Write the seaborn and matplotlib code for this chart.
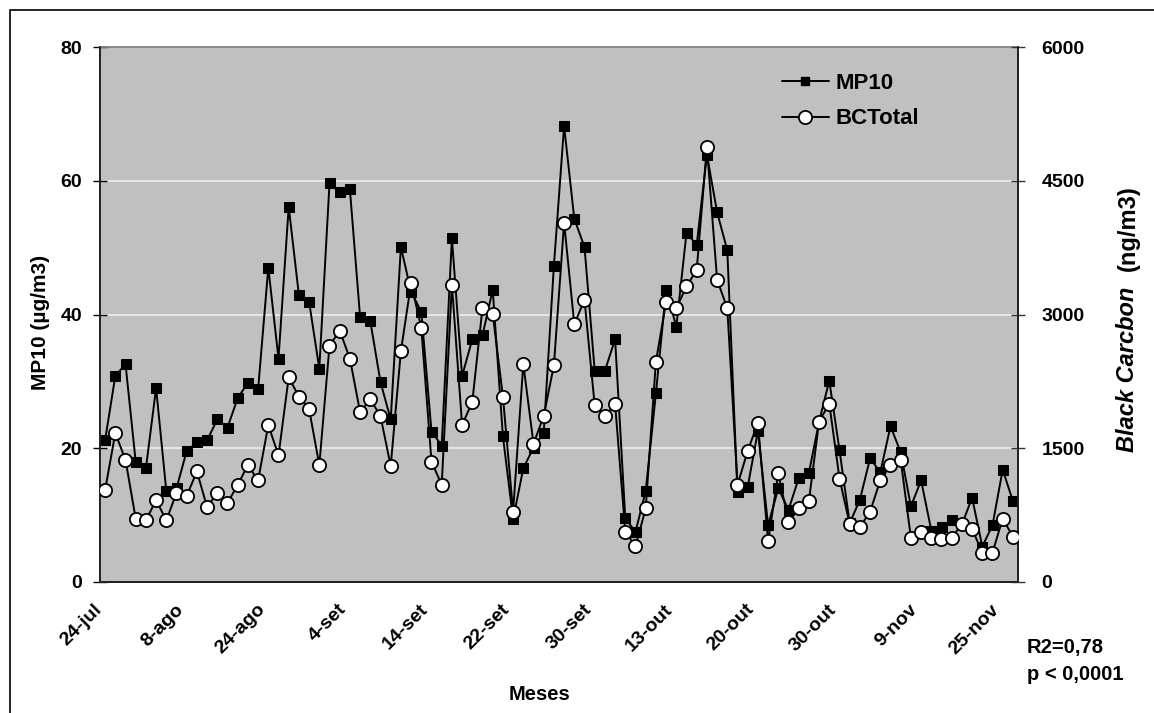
import numpy as np
import pandas as pd
import matplotlib
matplotlib.use("Agg")
import matplotlib.pyplot as plt
import matplotlib.transforms as mtrans
import seaborn as sns
from matplotlib.lines import Line2D
from matplotlib.patches import Rectangle

# ---- data ----
mp10 = [21.2, 30.8, 32.6, 18.0, 17.0, 29.0, 13.6, 14.0, 19.6, 20.9,
        21.2, 24.3, 23.1, 27.5, 29.8, 28.8, 47.0, 33.4, 56.1, 42.9,
        41.9, 31.9, 59.6, 58.3, 58.7, 39.6, 39.0, 29.9, 24.3, 50.1,
        43.4, 40.4, 22.5, 20.4, 51.4, 30.8, 36.3, 36.9, 43.7, 21.8,
        9.4, 17.0, 20.1, 22.3, 47.3, 68.2, 54.3, 50.1, 31.6, 31.6,
        36.3, 9.5, 7.5, 13.6, 28.2, 43.7, 38.2, 52.2, 50.4, 63.9,
        55.3, 49.6, 13.4, 14.2, 22.6, 8.5, 14.0, 10.8, 15.5, 16.3,
        24.0, 30.1, 19.7, 8.8, 12.3, 18.5, 16.4, 23.3, 19.4, 11.3,
        15.2, 7.7, 8.2, 9.2, 8.6, 12.6, 5.3, 8.5, 16.8, 12.1]

bc_total = [1030, 1670, 1370, 710, 690, 920, 690, 1000, 965, 1240,
            840, 1000, 885, 1090, 1310, 1140, 1760, 1420, 2295, 2080,
            1940, 1310, 2650, 2820, 2505, 1905, 2050, 1860, 1300, 2590,
            3350, 2850, 1350, 1090, 3335, 1760, 2020, 3075, 3010, 2080,
            790, 2445, 1550, 1860, 2430, 4030, 2890, 3165, 1980, 1860,
            1995, 565, 400, 825, 2470, 3140, 3070, 3315, 3500, 4880,
            3390, 3070, 1090, 1470, 1785, 455, 1220, 675, 825, 910,
            1800, 2000, 1160, 650, 615, 790, 1140, 1310, 1370, 495,
            565, 495, 480, 495, 650, 595, 330, 330, 710, 510]

tick_labels = ["24-jul", "8-ago", "24-ago", "4-set", "14-set", "22-set",
               "30-set", "13-out", "20-out", "30-out", "9-nov", "25-nov"]
label_step = 8

left_ticks = [0, 20, 40, 60, 80]
right_ticks = [0, 1500, 3000, 4500, 6000]

# ---- style ----
sns.set_style("white")
plt.rcParams['font.family'] = ['Liberation Sans', 'DejaVu Sans']
plt.rcParams['font.weight'] = 'bold'
for k in ('text.color', 'axes.labelcolor', 'xtick.color', 'ytick.color'):
    plt.rcParams[k] = 'black'

W, H = 1154, 713
fig = plt.figure(figsize=(W / 100, H / 100), dpi=100)
fig.patch.set_facecolor('white')

ax = fig.add_axes([100 / W, 1 - 582 / H, 918 / W, 535 / H])
ax.set_facecolor('#C0C0C0')

n = len(mp10)
df = pd.DataFrame({'idx': np.arange(n), 'MP10': mp10, 'BCTotal': bc_total})

sns.lineplot(data=df, x='idx', y='MP10', ax=ax, color='black', lw=1.4,
             marker='s', markersize=7, markerfacecolor='black',
             markeredgecolor='black', zorder=3)
ax2 = ax.twinx()
sns.lineplot(data=df, x='idx', y='BCTotal', ax=ax2, color='black', lw=1.4,
             marker='o', markersize=9.5, markerfacecolor='white',
             markeredgecolor='black', markeredgewidth=1.3, zorder=3)

ax.set_xlim(-0.5, n - 0.5)
ax.set_ylim(0, 80)
ax2.set_ylim(0, 6000)

ax.set_yticks(left_ticks)
ax.set_yticklabels([str(t) for t in left_ticks], fontsize=14, fontweight='bold')
ax2.set_yticks(right_ticks)
ax2.set_yticklabels([str(t) for t in right_ticks], fontsize=14, fontweight='bold')

ax.yaxis.grid(True, color='#EDEDED', lw=1.2)
ax.set_axisbelow(True)

# x ticks
pos = list(range(0, n, label_step))
ax.set_xticks(pos)
ax.set_xticklabels(tick_labels, fontsize=14, fontweight='bold')
ax.set_xticks(np.arange(-0.5, n, 1.0), minor=True)
ax.tick_params(axis='x', which='major', length=0, pad=18)
ax.tick_params(axis='x', which='minor', direction='inout', length=9, width=1, color='black')
ax.tick_params(axis='y', direction='inout', length=10, width=1, color='black', pad=8)
ax2.tick_params(axis='y', direction='inout', length=10, width=1, color='#333333', pad=12)
offset = mtrans.ScaledTranslation(-6 / 100, 0, fig.dpi_scale_trans)
for lab in ax.get_xticklabels():
    lab.set_rotation(45)
    lab.set_ha('right')
    lab.set_va('center')
    lab.set_rotation_mode('anchor')
    lab.set_transform(lab.get_transform() + offset)

ax.set_xlabel('')
ax.set_ylabel('')
ax2.set_ylabel('')

for a in (ax, ax2):
    for s in a.spines.values():
        s.set_linewidth(1.3)
ax.spines['top'].set_color('#808080')
ax.spines['left'].set_color('black')
ax.spines['bottom'].set_color('black')
ax2.spines['right'].set_color('#222222')
ax2.spines['top'].set_visible(False)

# legend
handles = [Line2D([], [], color='black', lw=1.4, marker='s', markersize=6,
                  markerfacecolor='black', markeredgecolor='black'),
           Line2D([], [], color='black', lw=1.4, marker='o', markersize=9.5,
                  markerfacecolor='white', markeredgecolor='black', markeredgewidth=1.3)]
if ax.get_legend() is not None:
    ax.get_legend().remove()
leg = ax2.legend(handles, ['MP10', 'BCTotal'], loc='upper left',
                 bbox_to_anchor=(782 / W, 1 - 73 / H), bbox_transform=fig.transFigure,
                 frameon=False, prop={'size': 16, 'weight': 'bold'},
                 handlelength=2.1, handletextpad=0.3, labelspacing=0.65,
                 borderpad=0, borderaxespad=0)

# labels
fig.text(40 / W, 1 - 322 / H, 'MP10 (µg/m3)', rotation=90, ha='center', va='center',
         fontsize=15, fontweight='bold')
t1 = fig.text(1128 / W, 1 - 452 / H, 'Black Carcbon', rotation=90, ha='center', va='bottom',
              fontsize=17, fontweight='bold', style='italic')
fig.canvas.draw()
bb = t1.get_window_extent(fig.canvas.get_renderer())
fig.text(1128 / W, (bb.y1 + 16) / fig.bbox.height, '(ng/m3)', rotation=90, ha='center',
         va='bottom', fontsize=17, fontweight='bold')
fig.text(540 / W, 1 - 695 / H, 'Meses', ha='center', va='center',
         fontsize=14.5, fontweight='bold')
fig.text(1027 / W, 1 - 648 / H, 'R2=0,78', ha='left', va='center',
         fontsize=14.5, fontweight='bold')
fig.text(1027 / W, 1 - 675 / H, 'p < 0,0001', ha='left', va='center',
         fontsize=14.5, fontweight='bold')

# outer chart border
fig.patches.append(Rectangle((10 / W, -0.1), 1.2, 1.1 - 10 / H, transform=fig.transFigure,
                             fill=False, edgecolor='black', lw=1.2))

fig.savefig('out.png', dpi=100)
